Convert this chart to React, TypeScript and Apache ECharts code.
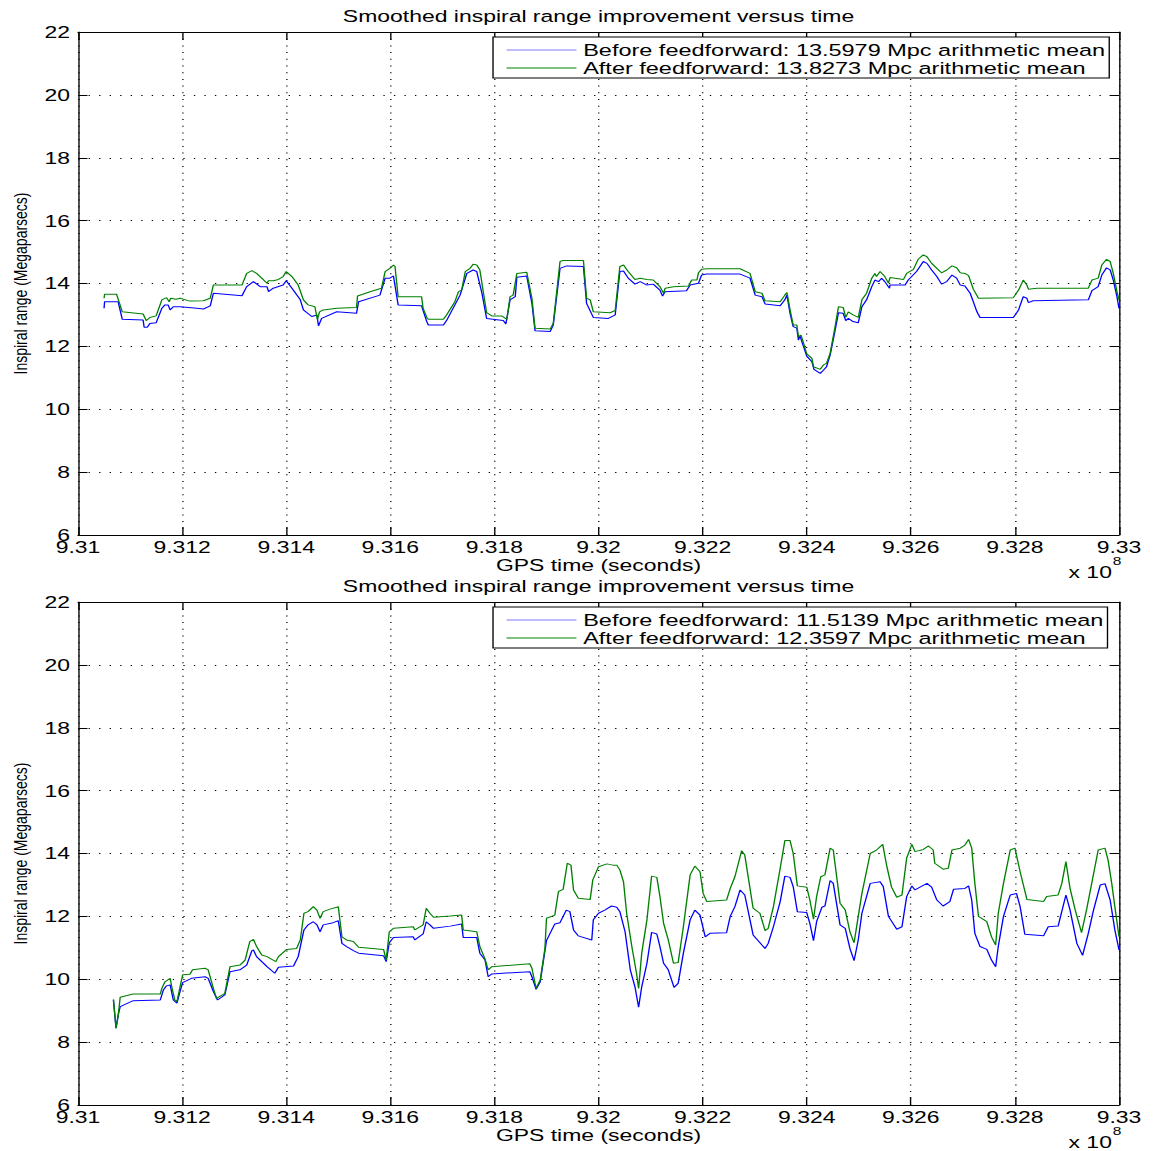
import React, { useEffect, useRef } from "react";
import * as echarts from "echarts";

// ---------- data (GPS time in units of 1e8 s, inspiral range in Mpc) ----------
const xTicks = [9.31, 9.312, 9.314, 9.316, 9.318, 9.32, 9.322, 9.324, 9.326, 9.328, 9.33];
const yTicks = [6, 8, 10, 12, 14, 16, 18, 20, 22];

const titleText = "Smoothed inspiral range improvement versus time";
const xName = "GPS time (seconds)";
const yName = "Inspiral range (Megaparsecs)";

const topNames = [
  "Before feedforward: 13.5979 Mpc arithmetic mean",
  "After feedforward: 13.8273 Mpc arithmetic mean",
];
const bottomNames = [
  "Before feedforward: 11.5139 Mpc arithmetic mean",
  "After feedforward: 12.3597 Mpc arithmetic mean",
];

const topBefore = [
  [9.3105,13.21],[9.31051,13.42],[9.31077,13.42],[9.31085,12.86],[9.31125,12.84],[9.31127,12.61],[9.31133,12.61],[9.31138,12.73],[9.3115,12.75],[9.31161,13.21],[9.31167,13.32],[9.31173,13.32],[9.31177,13.16],[9.31183,13.26],[9.31196,13.26],[9.31228,13.21],[9.31241,13.19],[9.31254,13.29],[9.3126,13.69],[9.31315,13.61],[9.31324,13.9],[9.31337,14.06],[9.3135,13.9],[9.31363,13.9],[9.31366,13.74],[9.31375,13.85],[9.31394,13.95],[9.314,14.09],[9.31411,13.85],[9.31427,13.48],[9.31433,13.16],[9.31449,12.95],[9.31459,13.0],[9.31462,12.65],[9.31468,12.89],[9.31497,13.1],[9.31535,13.05],[9.31539,13.42],[9.3158,13.63],[9.3159,14.17],[9.31599,14.17],[9.31606,14.24],[9.31615,13.32],[9.3166,13.29],[9.3167,12.79],[9.31673,12.68],[9.31702,12.68],[9.31708,12.82],[9.31724,13.32],[9.31734,13.63],[9.31747,14.32],[9.31759,14.43],[9.31766,14.38],[9.31776,13.69],[9.31785,12.89],[9.31817,12.82],[9.31822,12.71],[9.3183,13.48],[9.3184,13.58],[9.31843,14.2],[9.31862,14.24],[9.31872,13.37],[9.31878,12.5],[9.31907,12.47],[9.31913,12.68],[9.31926,14.48],[9.31939,14.56],[9.31971,14.54],[9.31977,13.37],[9.3199,12.92],[9.32019,12.89],[9.32032,13.0],[9.32041,14.38],[9.32048,14.4],[9.32057,14.17],[9.3207,13.98],[9.3208,14.06],[9.32093,13.95],[9.32105,13.98],[9.32118,13.79],[9.32123,13.6],[9.32128,13.74],[9.32169,13.77],[9.32176,13.95],[9.32192,14.01],[9.32198,14.27],[9.32208,14.3],[9.32272,14.3],[9.32291,14.17],[9.32301,13.63],[9.32314,13.58],[9.3232,13.35],[9.32349,13.29],[9.32358,13.48],[9.32362,13.63],[9.32368,13.05],[9.32374,12.63],[9.32381,12.58],[9.32384,12.2],[9.32387,12.33],[9.32393,12.04],[9.324,11.69],[9.3241,11.51],[9.32414,11.27],[9.32426,11.14],[9.32432,11.24],[9.32438,11.35],[9.32445,11.73],[9.32454,12.47],[9.32461,13.07],[9.3247,13.05],[9.32475,12.82],[9.3248,12.89],[9.32489,12.79],[9.32499,12.75],[9.32506,13.26],[9.32515,13.48],[9.32525,13.9],[9.32531,14.11],[9.32538,14.06],[9.32544,14.17],[9.3255,14.06],[9.32559,13.85],[9.3256,13.95],[9.32589,13.95],[9.32595,14.11],[9.32611,14.38],[9.32624,14.7],[9.32631,14.64],[9.3264,14.43],[9.3265,14.22],[9.32659,13.98],[9.32669,14.06],[9.32679,14.27],[9.32688,14.17],[9.32695,13.95],[9.32704,13.92],[9.32714,13.69],[9.3272,13.42],[9.32727,13.1],[9.32733,12.92],[9.32797,12.92],[9.32807,13.16],[9.32816,13.58],[9.32823,13.53],[9.32826,13.39],[9.32835,13.45],[9.32941,13.48],[9.32948,13.77],[9.3296,13.9],[9.32967,14.27],[9.32976,14.5],[9.32983,14.43],[9.32989,14.11],[9.32996,13.58],[9.33,13.21],
];

const topAfter = [
  [9.3105,13.53],[9.31051,13.66],[9.31074,13.66],[9.31085,13.1],[9.31125,13.03],[9.31131,12.82],[9.31138,12.92],[9.3115,12.97],[9.31161,13.48],[9.3117,13.55],[9.31175,13.42],[9.31178,13.53],[9.31188,13.5],[9.31196,13.53],[9.31215,13.44],[9.31241,13.45],[9.31254,13.53],[9.3126,13.95],[9.31315,13.95],[9.31324,14.32],[9.31334,14.41],[9.31343,14.32],[9.31353,14.17],[9.31363,14.01],[9.31366,14.09],[9.31375,14.09],[9.31385,14.13],[9.31394,14.22],[9.314,14.38],[9.31411,14.22],[9.31423,13.95],[9.31433,13.48],[9.31442,13.32],[9.31455,13.26],[9.3146,12.86],[9.31464,13.1],[9.31471,13.16],[9.31497,13.21],[9.31535,13.24],[9.31537,13.6],[9.31561,13.74],[9.31583,13.85],[9.3159,14.38],[9.31599,14.48],[9.31606,14.59],[9.31609,14.54],[9.31615,13.58],[9.3166,13.58],[9.31663,13.21],[9.3167,12.92],[9.31673,12.86],[9.31702,12.86],[9.31708,13.0],[9.31724,13.42],[9.31731,13.74],[9.31737,13.79],[9.31744,14.38],[9.31753,14.48],[9.31759,14.61],[9.31766,14.59],[9.31772,14.43],[9.31779,13.69],[9.31785,13.07],[9.31795,12.97],[9.31814,12.97],[9.31824,12.86],[9.3183,13.58],[9.31836,13.63],[9.31843,14.32],[9.31862,14.36],[9.31872,13.53],[9.31878,12.58],[9.31907,12.55],[9.31913,12.73],[9.31926,14.7],[9.31932,14.73],[9.31971,14.73],[9.31977,13.53],[9.31984,13.48],[9.3199,13.1],[9.32022,13.07],[9.32032,13.14],[9.32041,14.54],[9.32048,14.59],[9.32057,14.38],[9.3207,14.13],[9.3208,14.17],[9.32093,14.13],[9.32105,14.11],[9.32118,13.9],[9.32125,13.69],[9.32128,13.85],[9.32144,13.9],[9.32173,13.92],[9.32179,14.11],[9.32189,14.11],[9.32192,14.34],[9.32198,14.45],[9.32208,14.47],[9.32272,14.47],[9.32291,14.32],[9.32301,13.74],[9.32314,13.69],[9.3232,13.45],[9.32349,13.42],[9.32358,13.63],[9.32362,13.71],[9.32368,13.16],[9.32374,12.68],[9.32381,12.68],[9.32384,12.31],[9.32389,12.36],[9.32393,12.15],[9.324,11.76],[9.3241,11.62],[9.32413,11.35],[9.32426,11.27],[9.32432,11.41],[9.32438,11.46],[9.32445,11.78],[9.32454,12.58],[9.32461,13.26],[9.3247,13.24],[9.32475,12.92],[9.3248,13.1],[9.32489,13.0],[9.32499,12.92],[9.32506,13.48],[9.32515,13.69],[9.32525,14.17],[9.32531,14.32],[9.32534,14.22],[9.32541,14.38],[9.3255,14.22],[9.32557,14.01],[9.3256,14.19],[9.32586,14.13],[9.32592,14.32],[9.32605,14.45],[9.32614,14.77],[9.32624,14.91],[9.32631,14.85],[9.3264,14.64],[9.3265,14.48],[9.32659,14.34],[9.32669,14.43],[9.32679,14.56],[9.32688,14.5],[9.32695,14.34],[9.32704,14.32],[9.32711,14.25],[9.3272,13.82],[9.3273,13.53],[9.32797,13.55],[9.32807,13.79],[9.32816,14.11],[9.32823,13.95],[9.32826,13.82],[9.32842,13.85],[9.32941,13.85],[9.32948,14.11],[9.3296,14.17],[9.32967,14.59],[9.32976,14.77],[9.32983,14.7],[9.32989,14.32],[9.32996,13.74],[9.33,13.48],
];

const bottomBefore = [
  [9.31068,9.34],[9.31073,8.44],[9.31077,8.86],[9.31081,9.13],[9.31106,9.32],[9.31158,9.34],[9.31164,9.66],[9.3117,9.79],[9.31177,9.82],[9.31183,9.34],[9.3119,9.24],[9.31196,9.61],[9.31201,9.89],[9.31218,10.03],[9.31244,10.08],[9.3125,10.03],[9.3126,9.61],[9.31268,9.34],[9.31282,9.5],[9.31292,10.24],[9.31311,10.3],[9.31324,10.45],[9.31334,10.91],[9.31337,10.93],[9.31343,10.72],[9.31353,10.56],[9.31363,10.4],[9.31378,10.19],[9.31385,10.38],[9.31414,10.42],[9.31423,10.72],[9.31434,11.57],[9.31442,11.73],[9.31452,11.83],[9.31459,11.73],[9.31465,11.51],[9.31471,11.73],[9.3149,11.8],[9.315,11.86],[9.31507,11.14],[9.31516,11.04],[9.31529,10.91],[9.31539,10.83],[9.31587,10.75],[9.31592,10.56],[9.31598,11.16],[9.31606,11.33],[9.31644,11.35],[9.31647,11.25],[9.31663,11.44],[9.31669,11.83],[9.31676,11.73],[9.31683,11.62],[9.31715,11.69],[9.31737,11.76],[9.3174,11.33],[9.31766,11.33],[9.31772,10.83],[9.31782,10.61],[9.31788,10.08],[9.31795,10.17],[9.31868,10.24],[9.31872,10.08],[9.3188,9.68],[9.31888,9.92],[9.319,11.23],[9.31916,11.76],[9.31926,11.8],[9.31938,12.2],[9.31945,12.15],[9.31952,11.57],[9.31961,11.38],[9.31987,11.25],[9.3199,11.89],[9.32,12.1],[9.32012,12.2],[9.32025,12.33],[9.32035,12.29],[9.32041,12.15],[9.32051,11.51],[9.32061,10.3],[9.3207,9.76],[9.32077,9.11],[9.32083,9.76],[9.32093,10.51],[9.32102,11.49],[9.32112,11.44],[9.32118,11.04],[9.32125,10.51],[9.32134,10.3],[9.32145,9.74],[9.32153,9.87],[9.32163,10.83],[9.32176,11.89],[9.32185,12.2],[9.32195,12.04],[9.32205,11.35],[9.32214,11.46],[9.32246,11.48],[9.32253,12.0],[9.32262,12.31],[9.32272,12.84],[9.32281,12.68],[9.32291,11.89],[9.32297,11.41],[9.32314,11.09],[9.3232,10.98],[9.32326,11.14],[9.32336,11.67],[9.32349,12.47],[9.32358,13.28],[9.32368,13.24],[9.32374,12.95],[9.32382,12.15],[9.324,12.12],[9.32406,11.78],[9.32413,11.23],[9.32419,11.83],[9.32429,12.29],[9.32435,12.33],[9.32445,13.14],[9.32451,13.05],[9.32464,11.73],[9.32474,11.62],[9.32483,10.98],[9.32491,10.59],[9.32499,11.25],[9.32506,12.1],[9.32522,13.05],[9.32541,13.1],[9.32547,12.95],[9.32557,12.0],[9.32573,11.59],[9.32583,11.67],[9.32592,12.63],[9.32602,12.97],[9.32608,12.84],[9.32631,13.05],[9.3264,12.93],[9.3265,12.52],[9.32662,12.33],[9.32675,12.47],[9.32682,12.86],[9.32704,12.89],[9.32711,12.97],[9.32717,12.52],[9.32723,11.46],[9.32733,11.04],[9.32746,10.95],[9.32755,10.61],[9.32763,10.4],[9.32768,11.04],[9.32778,12.0],[9.32791,12.68],[9.32803,12.73],[9.3281,12.31],[9.32819,11.43],[9.32855,11.38],[9.32864,11.67],[9.32883,11.69],[9.3289,12.15],[9.32898,12.68],[9.32906,12.2],[9.32919,11.14],[9.3293,10.76],[9.32941,11.46],[9.32951,12.2],[9.32964,13.0],[9.32973,13.04],[9.32983,12.52],[9.32992,11.57],[9.33,10.93],
];

const bottomAfter = [
  [9.31068,9.36],[9.31073,8.44],[9.31077,8.81],[9.31081,9.43],[9.31106,9.53],[9.31158,9.53],[9.31161,9.71],[9.31167,9.92],[9.31177,10.03],[9.3118,9.76],[9.31186,9.34],[9.3119,9.29],[9.31196,9.76],[9.31201,10.14],[9.31215,10.16],[9.3122,10.3],[9.31244,10.35],[9.3125,10.3],[9.3126,9.71],[9.31266,9.39],[9.31282,9.55],[9.31292,10.4],[9.31311,10.45],[9.31321,10.61],[9.3133,11.2],[9.31337,11.27],[9.31343,11.04],[9.31353,10.77],[9.31363,10.72],[9.3138,10.56],[9.31385,10.72],[9.31401,10.95],[9.3142,10.98],[9.31427,11.25],[9.31434,12.1],[9.31442,12.15],[9.31452,12.31],[9.31459,12.2],[9.31465,11.94],[9.31471,12.15],[9.31484,12.23],[9.31497,12.29],[9.315,12.31],[9.31507,11.35],[9.31516,11.25],[9.31529,11.2],[9.31539,11.02],[9.31587,10.95],[9.31592,10.61],[9.31598,11.51],[9.31606,11.62],[9.31644,11.67],[9.31647,11.57],[9.31663,11.73],[9.31669,12.26],[9.31676,12.1],[9.31683,11.97],[9.31715,12.01],[9.31737,12.04],[9.3174,11.57],[9.31766,11.51],[9.31772,11.04],[9.31782,10.64],[9.31788,10.3],[9.31795,10.4],[9.31868,10.49],[9.31872,10.35],[9.3188,9.71],[9.31888,9.98],[9.31897,10.98],[9.319,11.94],[9.31916,12.04],[9.31923,12.79],[9.31932,12.86],[9.3194,13.69],[9.31947,13.63],[9.31952,12.84],[9.31961,12.58],[9.31984,12.54],[9.31989,13.16],[9.32,13.58],[9.32016,13.67],[9.32028,13.63],[9.32035,13.63],[9.32041,13.48],[9.32048,13.1],[9.32054,12.1],[9.32064,11.04],[9.32073,10.19],[9.32077,9.71],[9.32083,10.83],[9.32093,11.89],[9.32102,13.28],[9.32112,13.24],[9.32118,12.63],[9.32125,11.78],[9.32134,11.25],[9.32144,10.51],[9.32153,10.53],[9.32163,11.67],[9.32176,13.32],[9.32185,13.6],[9.32195,13.42],[9.32201,12.73],[9.32208,12.47],[9.32246,12.52],[9.32253,12.89],[9.32262,13.26],[9.32275,14.09],[9.32281,13.95],[9.32288,13.21],[9.32297,12.26],[9.3231,12.1],[9.3232,11.55],[9.32326,11.62],[9.32336,12.31],[9.32349,13.53],[9.32358,14.41],[9.32368,14.41],[9.32374,14.0],[9.32382,12.97],[9.324,12.93],[9.32406,12.52],[9.32413,11.91],[9.32419,12.63],[9.32427,13.26],[9.32435,13.32],[9.32445,14.17],[9.32451,14.11],[9.32464,12.42],[9.32474,12.2],[9.32483,11.51],[9.32491,11.16],[9.32499,12.0],[9.32506,12.73],[9.32522,14.0],[9.32534,14.11],[9.32546,14.29],[9.32554,13.58],[9.32563,12.93],[9.32573,12.61],[9.32583,12.68],[9.32592,13.85],[9.32602,14.29],[9.32608,14.06],[9.32624,14.13],[9.32634,14.24],[9.32643,14.11],[9.32646,13.69],[9.32662,13.5],[9.32672,13.53],[9.32679,14.11],[9.32695,14.17],[9.32704,14.27],[9.32711,14.45],[9.32717,14.17],[9.32723,13.05],[9.3273,12.0],[9.32746,11.83],[9.32755,11.35],[9.32763,11.09],[9.32768,12.1],[9.32778,13.05],[9.32791,14.11],[9.328,14.17],[9.3281,13.42],[9.32823,12.54],[9.32855,12.47],[9.32861,12.63],[9.32883,12.68],[9.3289,13.04],[9.32898,13.74],[9.32906,12.88],[9.32916,12.19],[9.32928,11.48],[9.32938,12.24],[9.32948,13.09],[9.3296,14.11],[9.32973,14.17],[9.32979,13.79],[9.32986,13.05],[9.32992,12.31],[9.33,11.35],
];

// ---------- layout ----------
const SX = 1.35; // horizontal stretch of the whole figure
const W = 855;
const H = 1151;
const FONT = "'Liberation Sans', Arial, Helvetica, sans-serif";
const BLUE = "#0000ff";
const GREEN = "#008000";
const GRID_LEFT = 57.8;
const GRID_W = 771.1;
const GRID_H = 503;
const panelTops = [32, 602];

function fmtX(v: number) {
  return String(parseFloat(v.toFixed(3)));
}

function buildOption() {
  const xMin = xTicks[0];
  const xMax = xTicks[xTicks.length - 1];
  const xInt = +(xTicks[1] - xTicks[0]).toFixed(6);
  const yMin = yTicks[0];
  const yMax = yTicks[yTicks.length - 1];
  const yInt = yTicks[1] - yTicks[0];

  const grids: any[] = [];
  const xAxes: any[] = [];
  const yAxes: any[] = [];
  const series: any[] = [];
  const legends: any[] = [];
  const titles: any[] = [];
  const graphics: any[] = [];

  const panels = [
    { names: topNames, before: topBefore, after: topAfter },
    { names: bottomNames, before: bottomBefore, after: bottomAfter },
  ];

  panels.forEach((p, i) => {
    const top = panelTops[i];
    grids.push({ left: GRID_LEFT, top, width: GRID_W, height: GRID_H, containLabel: false });

    const axisLine = { show: true, onZero: false, lineStyle: { color: "#000", width: 1 } };
    xAxes.push({
      type: "value", gridIndex: i, position: "bottom", min: xMin, max: xMax, interval: xInt,
      axisLine, axisTick: { show: true, inside: true, length: 8, lineStyle: { color: "#000" } },
      axisLabel: { show: true, margin: 4, fontSize: 17, color: "#000", fontFamily: FONT, formatter: fmtX },
      splitLine: { show: true, lineStyle: { color: "#000", width: 1, type: [1, 5.7] } },
      name: xName, nameLocation: "middle", nameGap: 22,
      nameTextStyle: { fontSize: 17, color: "#000", fontFamily: FONT },
    });
    xAxes.push({
      type: "value", gridIndex: i, position: "top", min: xMin, max: xMax, interval: xInt,
      axisLine, axisTick: { show: true, inside: true, length: 8, lineStyle: { color: "#000" } },
      axisLabel: { show: false }, splitLine: { show: false },
    });
    yAxes.push({
      type: "value", gridIndex: i, position: "left", min: yMin, max: yMax, interval: yInt,
      axisLine, axisTick: { show: true, inside: true, length: 7, lineStyle: { color: "#000" } },
      axisLabel: { show: true, margin: 6, fontSize: 17, color: "#000", fontFamily: FONT },
      splitLine: { show: true, lineStyle: { color: "#000", width: 1, type: [1, 6.8] } },
      name: yName, nameLocation: "middle", nameGap: 33, nameRotate: 90,
      nameTextStyle: { fontSize: 14, color: "#000", fontFamily: FONT },
    });
    yAxes.push({
      type: "value", gridIndex: i, position: "right", min: yMin, max: yMax, interval: yInt,
      axisLine, axisTick: { show: true, inside: true, length: 7, lineStyle: { color: "#000" } },
      axisLabel: { show: false }, splitLine: { show: false },
    });

    series.push({
      name: p.names[0], type: "line", xAxisIndex: 2 * i, yAxisIndex: 2 * i,
      data: p.before, symbol: "none", showSymbol: false, silent: true,
      lineStyle: { color: BLUE, width: 1 }, itemStyle: { color: BLUE }, z: 3,
    });
    series.push({
      name: p.names[1], type: "line", xAxisIndex: 2 * i, yAxisIndex: 2 * i,
      data: p.after, symbol: "none", showSymbol: false, silent: true,
      lineStyle: { color: GREEN, width: 1 }, itemStyle: { color: GREEN }, z: 4,
    });

    legends.push({
      data: p.names.map((n, k) => ({
        name: n, icon: "rect",
        itemStyle: { color: k === 0 ? "#7f7fff" : GREEN, borderWidth: 0 },
      })),
      orient: "vertical", left: 365.2, top: top + 5,
      padding: [4, 3, 1, 10], itemGap: 0, itemWidth: 51.8, itemHeight: 1.2,
      backgroundColor: "#fff", borderColor: "#000", borderWidth: 1,
      selectedMode: false, z: 10,
      textStyle: { fontSize: 17.4, lineHeight: 18, color: "#000", fontFamily: FONT },
    });

    titles.push({
      text: titleText, left: GRID_LEFT + GRID_W / 2, top: top - 24.5, textAlign: "center", padding: 0,
      textStyle: { fontSize: 17, fontWeight: "normal", color: "#000", fontFamily: FONT },
    });

    graphics.push({
      type: "text", left: 791.5, top: top + 532, silent: true,
      style: { text: "x 10", fontSize: 17, lineHeight: 12, fill: "#000", fontFamily: FONT },
    });
    graphics.push({
      type: "text", left: 824.3, top: top + 523, silent: true,
      style: { text: "8", fontSize: 11.5, lineHeight: 10, fill: "#000", fontFamily: FONT },
    });
  });

  return {
    animation: false,
    backgroundColor: "#fff",
    textStyle: { fontFamily: FONT },
    title: titles,
    legend: legends,
    grid: grids,
    xAxis: xAxes,
    yAxis: yAxes,
    series,
    graphic: graphics,
  };
}

export default function App() {
  const ref = useRef<HTMLDivElement>(null);
  useEffect(() => {
    if (!ref.current) return;
    const chart = echarts.init(ref.current, null, { renderer: "svg", width: W, height: H });
    chart.setOption(buildOption() as any);
    return () => chart.dispose();
  }, []);
  return (
    <div
      style={{
        position: "absolute", left: 0, top: 0, width: W, height: H,
        transform: `scaleX(${SX})`, transformOrigin: "0 0", background: "#fff",
      }}
    >
      <div ref={ref} style={{ width: W, height: H }} />
    </div>
  );
}
